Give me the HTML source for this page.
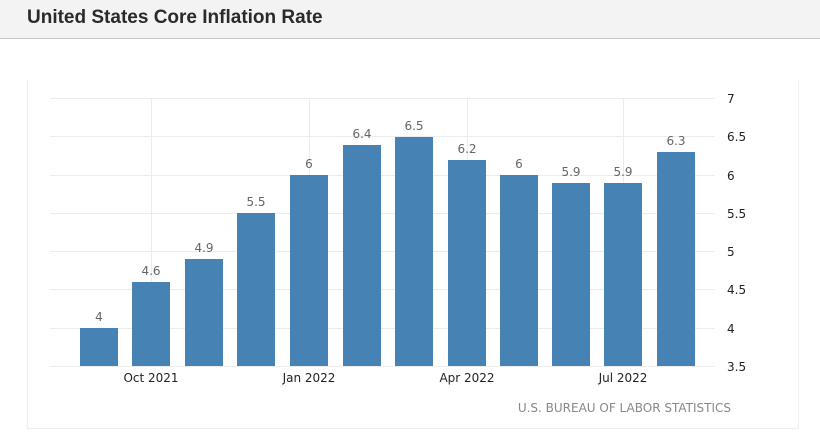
<!DOCTYPE html><html><head><style>
body{margin:0;width:820px;height:444px;background:#fff;font-family:"Liberation Sans",sans-serif;overflow:hidden}
.t{position:absolute;left:0;top:0;width:820px;height:38px;background:#f3f3f3;border-bottom:1px solid #c8c8c8}
.t span{position:absolute;left:27px;top:7px;font-size:19px;font-weight:bold;color:#2a2a2a}
.p{position:absolute;left:27px;top:80px;width:770px;height:348px;border:1px solid #eee;border-top:none}
</style></head><body>
<div class="t"><span>United States Core Inflation Rate</span></div>
<div class="p"></div>
<svg width="820" height="444" style="position:absolute;left:0;top:0" font-family="DejaVu Sans, sans-serif">
<g stroke="#ececec" stroke-width="1">
<line x1="50" x2="715" y1="98.5" y2="98.5"/><line x1="50" x2="715" y1="136.5" y2="136.5"/><line x1="50" x2="715" y1="175.5" y2="175.5"/><line x1="50" x2="715" y1="213.5" y2="213.5"/><line x1="50" x2="715" y1="251.5" y2="251.5"/><line x1="50" x2="715" y1="289.5" y2="289.5"/><line x1="50" x2="715" y1="328.5" y2="328.5"/><line x1="50" x2="715" y1="366.5" y2="366.5"/>
<line x1="151.5" x2="151.5" y1="98" y2="366"/><line x1="309.5" x2="309.5" y1="98" y2="366"/><line x1="467.5" x2="467.5" y1="98" y2="366"/><line x1="623.5" x2="623.5" y1="98" y2="366"/>
</g>
<g fill="#4682b4">
<rect x="80" y="328" width="38" height="38"/><rect x="132" y="282" width="38" height="84"/><rect x="185" y="259" width="38" height="107"/><rect x="237" y="213" width="38" height="153"/><rect x="290" y="175" width="38" height="191"/><rect x="343" y="145" width="38" height="221"/><rect x="395" y="137" width="38" height="229"/><rect x="448" y="160" width="38" height="206"/><rect x="500" y="175" width="38" height="191"/><rect x="552" y="183" width="38" height="183"/><rect x="604" y="183" width="38" height="183"/><rect x="657" y="152" width="38" height="214"/>
</g>
<g fill="#666" font-size="12" text-anchor="middle">
<text x="99" y="321">4</text><text x="151" y="275">4.6</text><text x="204" y="252">4.9</text><text x="256" y="206">5.5</text><text x="309" y="168">6</text><text x="362" y="138">6.4</text><text x="414" y="130">6.5</text><text x="467" y="153">6.2</text><text x="519" y="168">6</text><text x="571" y="176">5.9</text><text x="623" y="176">5.9</text><text x="676" y="145">6.3</text>
</g>
<g fill="#222" font-size="12">
<text x="727" y="103">7</text><text x="727" y="141">6.5</text><text x="727" y="180">6</text><text x="727" y="218">5.5</text><text x="727" y="256">5</text><text x="727" y="294">4.5</text><text x="727" y="333">4</text><text x="727" y="371">3.5</text>
</g>
<g fill="#222" font-size="12" text-anchor="middle">
<text x="151" y="382">Oct 2021</text><text x="309" y="382">Jan 2022</text><text x="467" y="382">Apr 2022</text><text x="623" y="382">Jul 2022</text>
</g>
<text x="731" y="412" fill="#888" font-size="12" text-anchor="end">U.S. BUREAU OF LABOR STATISTICS</text>
</svg>
</body></html>
